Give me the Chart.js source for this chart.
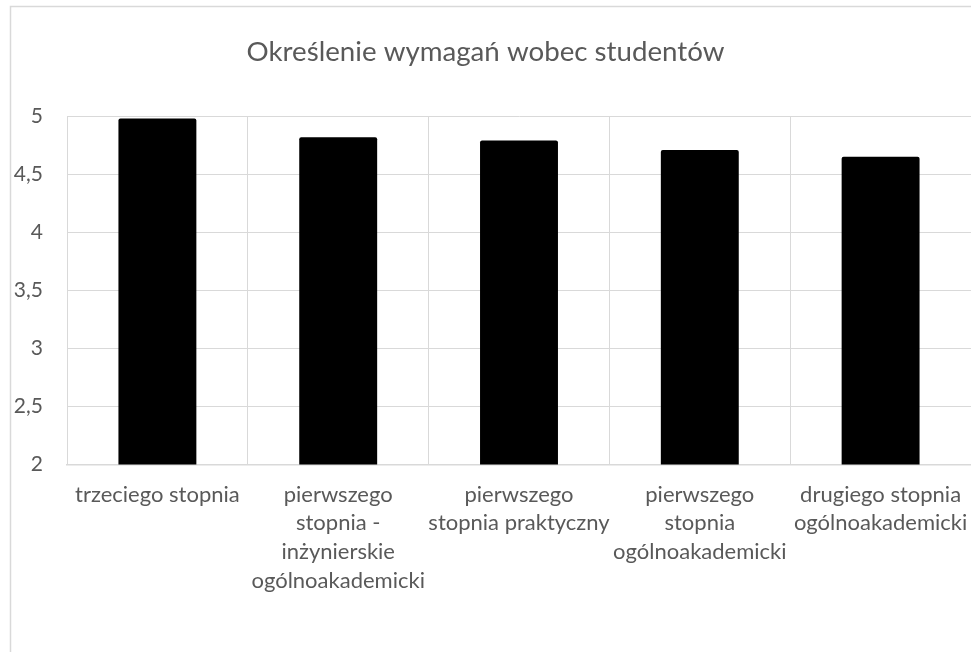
<!DOCTYPE html>
<html>
<head>
<meta charset="utf-8">
<script src="https://cdn.jsdelivr.net/npm/chart.js@4"></script>
<style>
html,body{margin:0;padding:0;background:#fff;}
#wrap{width:971px;height:652px;position:relative;}
</style>
</head>
<body>
<div id="wrap"><canvas id="c" width="971" height="652"></canvas></div>
<script>
const titleText = "Określenie wymagań wobec studentów";
const categories = [
  "trzeciego stopnia",
  ["pierwszego", "stopnia -", "inżynierskie", "ogólnoakademicki"],
  ["pierwszego", "stopnia praktyczny"],
  ["pierwszego", "stopnia", "ogólnoakademicki"],
  ["drugiego stopnia", "ogólnoakademicki"]
];
const values = [4.98, 4.82, 4.79, 4.71, 4.65];
const yTicks = [2, 2.5, 3, 3.5, 4, 4.5, 5];

const borderPlugin = {
  id: 'frame',
  beforeDraw(chart) {
    const ctx = chart.ctx;
    ctx.save();
    ctx.fillStyle = '#fff';
    ctx.fillRect(0, 0, chart.width, chart.height);
    ctx.strokeStyle = '#d9d9d9';
    ctx.lineWidth = 1.5;
    ctx.strokeRect(10.5, 6.5, 2000, 2000);
    ctx.restore();
  }
};

new Chart(document.getElementById('c'), {
  type: 'bar',
  data: {
    labels: categories,
    datasets: [{
      data: values,
      backgroundColor: '#000000',
      borderWidth: 0,
      borderRadius: {topLeft: 2, topRight: 2},
      categoryPercentage: 1,
      barPercentage: 0.431
    }]
  },
  plugins: [borderPlugin],
  options: {
    responsive: false,
    animation: false,
    layout: {padding: {left: 0, right: 0, top: 0, bottom: 0}},
    plugins: {
      legend: {display: false},
      tooltip: {enabled: false},
      title: {
        display: true,
        text: titleText,
        color: '#595959',
        font: {family: 'Lato', size: 27.7, weight: 'normal', lineHeight: 1.2},
        padding: {top: 35, bottom: 48}
      }
    },
    scales: {
      x: {
        offset: true,
        grid: {color: '#d9d9d9', lineWidth: 1, offset: true, drawTicks: false},
        border: {color: '#d9d9d9', width: 1.5},
        ticks: {
          color: '#595959',
          font: {family: 'Lato', size: 22, lineHeight: 1.3},
          padding: 16,
          maxRotation: 0,
          autoSkip: false
        },
        afterFit(scale) {
          scale.height = 652 - 464.5;
          scale.paddingLeft = 0;
          scale.paddingRight = 0;
        }
      },
      y: {
        min: 2,
        max: 5,
        afterBuildTicks(scale) { scale.ticks = yTicks.map(v => ({value: v})); },
        grid: {color: '#d9d9d9', lineWidth: 1, drawTicks: false},
        border: {color: '#d9d9d9', width: 1},
        ticks: {
          color: '#595959',
          font: {family: 'Lato', size: 21},
          padding: 24,
          callback: v => String(v).replace('.', ',')
        },
        afterFit(scale) { scale.width = 67; }
      }
    }
  }
});
</script>
</body>
</html>
